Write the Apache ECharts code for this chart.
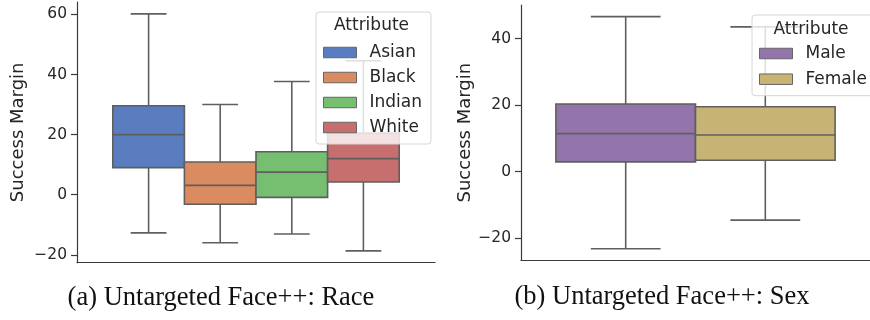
<!DOCTYPE html>
<html>
<head>
<meta charset="utf-8">
<script src="https://cdn.jsdelivr.net/npm/echarts@6/dist/echarts.min.js"></script>
<style>
html,body{margin:0;padding:0;background:#fff;}
#c{width:870px;height:320px;}
</style>
</head>
<body>
<div id="c"></div>
<script>
// ---- Data ----
const raceCategories = ['Asian', 'Black', 'Indian', 'White'];
const raceLow    = [-12.7, -16.0, -13.1, -18.7];
const raceQ1     = [9.0, -3.2, -0.9, 4.2];
const raceMedian = [20.0, 3.1, 7.5, 12.0];
const raceQ3     = [29.6, 10.9, 14.3, 20.5];
const raceHigh   = [60.2, 30.0, 37.7, 44.6];
const raceTicks  = [-20, 0, 20, 40, 60];

const sexCategories = ['Male', 'Female'];
const sexLow    = [-23.2, -14.6];
const sexQ1     = [2.9, 3.4];
const sexMedian = [11.4, 11.0];
const sexQ3     = [20.3, 19.5];
const sexHigh   = [46.6, 43.5];
const sexTicks  = [-20, 0, 20, 40];

const legendTitle = 'Attribute';
const yLabel = 'Success Margin';
const captionA = '(a) Untargeted Face++: Race';
const captionB = '(b) Untargeted Face++: Sex';

// ---- Styles ----
const raceColors = ['#597dbf', '#da8b5f', '#76bf71', '#c76e6e'];
const sexColors = ['#9475ab', '#c7b475'];
const lineGray = '#5f5f5f';
const textColor = '#262626';
const sansFont = 'DejaVu Sans';

function paddedExtent(lows, highs) {
  const lo = Math.min(...lows), hi = Math.max(...highs);
  const m = (hi - lo) * 0.05;
  return [lo - m, hi + m];
}

function renderBox(n, color) {
  return function (params, api) {
    const xc = api.value(0);
    const w = 0.8 / n, h = w / 2, c = w / 4;
    const low = api.value(1), q1 = api.value(2), med = api.value(3), q3 = api.value(4), high = api.value(5);
    const tl = api.coord([xc - h, q3]);
    const br = api.coord([xc + h, q1]);
    const pc = (v) => api.coord([xc, v]);
    const lw = 1.6;
    const ls = { stroke: lineGray, lineWidth: lw };
    return {
      type: 'group',
      children: [
        { type: 'rect', shape: { x: tl[0], y: tl[1], width: br[0] - tl[0], height: br[1] - tl[1] },
          style: { fill: color, stroke: lineGray, lineWidth: lw } },
        { type: 'line', shape: { x1: pc(q3)[0], y1: pc(q3)[1], x2: pc(high)[0], y2: pc(high)[1] }, style: ls },
        { type: 'line', shape: { x1: pc(q1)[0], y1: pc(q1)[1], x2: pc(low)[0], y2: pc(low)[1] }, style: ls },
        { type: 'line', shape: { x1: api.coord([xc - c, high])[0], y1: pc(high)[1], x2: api.coord([xc + c, high])[0], y2: pc(high)[1] }, style: ls },
        { type: 'line', shape: { x1: api.coord([xc - c, low])[0], y1: pc(low)[1], x2: api.coord([xc + c, low])[0], y2: pc(low)[1] }, style: ls },
        { type: 'line', shape: { x1: api.coord([xc - h, med])[0], y1: pc(med)[1], x2: api.coord([xc + h, med])[0], y2: pc(med)[1] }, style: ls }
      ]
    };
  };
}

function buildSeries(cats, lows, q1s, meds, q3s, highs, colors, axisIndex) {
  const n = cats.length;
  return cats.map((name, i) => ({
    type: 'custom',
    name: name,
    xAxisIndex: axisIndex,
    yAxisIndex: axisIndex,
    clip: false,
    itemStyle: { color: colors[i] },
    encode: { x: 0, y: [1, 2, 3, 4, 5] },
    data: [[-0.4 + 0.8 * (i + 0.5) / n, lows[i], q1s[i], meds[i], q3s[i], highs[i]]],
    renderItem: renderBox(n, colors[i])
  }));
}

const minusFmt = (v) => String(v).replace('-', '\u2212');

const raceExt = paddedExtent(raceLow, raceHigh);
const sexExt = paddedExtent(sexLow, sexHigh);

function yAxisDef(ext, ticks, gridIndex, nameGap) {
  return {
    type: 'value', gridIndex: gridIndex, min: ext[0], max: ext[1],
    name: yLabel, nameLocation: 'middle', nameGap: nameGap,
    nameTextStyle: { fontFamily: sansFont, fontSize: 18, color: textColor },
    axisLine: { show: true, onZero: false, lineStyle: { color: '#3a3a3a', width: 1.2 } },
    axisTick: { show: true, length: 6, lineStyle: { color: '#3a3a3a', width: 1.2 }, customValues: ticks },
    axisLabel: { fontFamily: sansFont, fontSize: 15.5, color: textColor, margin: 10, customValues: ticks, formatter: minusFmt },
    splitLine: { show: false }
  };
}

function xAxisDef(gridIndex) {
  return {
    type: 'value', gridIndex: gridIndex, min: -0.5, max: 0.5,
    axisLine: { show: true, onZero: false, lineStyle: { color: '#3a3a3a', width: 1.2 } },
    axisTick: { show: false }, axisLabel: { show: false }, splitLine: { show: false }
  };
}

function legendDef(cats, left, top, padding, gap) {
  return {
    data: cats, orient: 'vertical', left: left, top: top, padding: padding,
    itemWidth: 33, itemHeight: 10.5, itemGap: gap, icon: 'rect',
    backgroundColor: 'rgba(255,255,255,0.8)', borderColor: '#d6d6d6', borderWidth: 1, borderRadius: 3,
    itemStyle: { borderColor: '#666666', borderWidth: 1 },
    textStyle: { fontFamily: sansFont, fontSize: 17, color: textColor, padding: [0, 0, 0, 8] },
    selectedMode: false, z: 10
  };
}

const chart = echarts.init(document.getElementById('c'), null, { renderer: 'canvas' });
chart.setOption({
  animation: false,
  backgroundColor: '#ffffff',
  grid: [
    { left: 77, top: 2, width: 358, height: 260.7 },
    { left: 521, top: 5, width: 356.7, height: 255.3 }
  ],
  xAxis: [xAxisDef(0), xAxisDef(1)],
  yAxis: [yAxisDef(raceExt, raceTicks, 0, 50), yAxisDef(sexExt, sexTicks, 1, 46)],
  legend: [
    legendDef(raceCategories, 316, 12, [32, 9, 8, 7], 8),
    legendDef(sexCategories, 752, 15, [30, 9, 8, 7], 8.7)
  ],
  series: [
    ...buildSeries(raceCategories, raceLow, raceQ1, raceMedian, raceQ3, raceHigh, raceColors, 0),
    ...buildSeries(sexCategories, sexLow, sexQ1, sexMedian, sexQ3, sexHigh, sexColors, 1)
  ],
  graphic: [
    { type: 'text', x: 371.5, y: 26, z: 100, style: { text: legendTitle, fontFamily: sansFont, fontSize: 17, fill: textColor, align: 'center', verticalAlign: 'middle' } },
    { type: 'text', x: 811, y: 29.5, z: 100, style: { text: legendTitle, fontFamily: sansFont, fontSize: 17, fill: textColor, align: 'center', verticalAlign: 'middle' } },
    { type: 'text', x: 221, y: 298, z: 100, style: { text: captionA, fontFamily: 'Liberation Serif', fontSize: 26.5, fill: '#111111', align: 'center', verticalAlign: 'middle' } },
    { type: 'text', x: 662, y: 297, z: 100, style: { text: captionB, fontFamily: 'Liberation Serif', fontSize: 26.5, fill: '#111111', align: 'center', verticalAlign: 'middle' } }
  ]
});
</script>
</body>
</html>
